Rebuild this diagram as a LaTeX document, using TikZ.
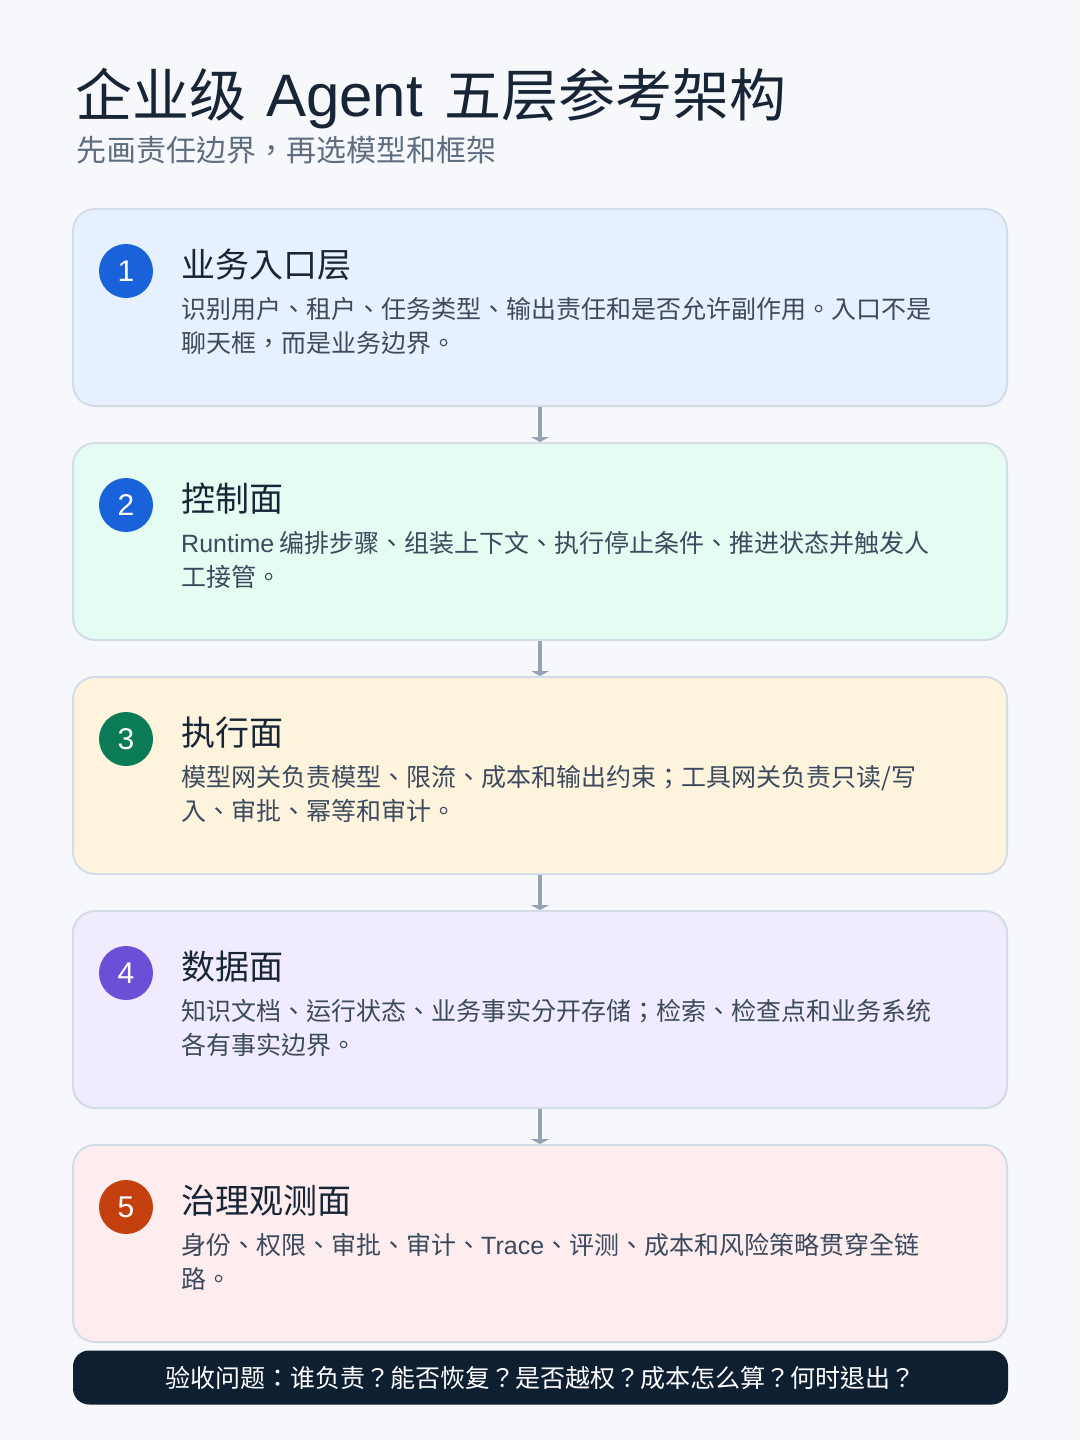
\documentclass[tikz,border=0pt]{standalone}
\usepackage{fontspec}
\setmainfont{Noto Sans CJK TC}
\newfontfamily\latinfont{Liberation Sans}
\usepackage{tikz}
\usetikzlibrary{calc}
\usetikzlibrary{arrows.meta}
\definecolor{pagebg}{HTML}{F6F8FC}
\definecolor{edgegray}{HTML}{D4DDE7}
\definecolor{titleink}{HTML}{172536}
\definecolor{bodyink}{HTML}{3B4A5C}
\definecolor{subink}{HTML}{5E6E80}
\definecolor{arrowgray}{HTML}{94A2B4}
\definecolor{barnavy}{HTML}{0F1F32}
\definecolor{fillone}{HTML}{E7F0FE}
\definecolor{filltwo}{HTML}{E5FCF2}
\definecolor{fillthree}{HTML}{FEF4DE}
\definecolor{fillfour}{HTML}{F1ECFD}
\definecolor{fillfive}{HTML}{FDEDEE}
\definecolor{badgeblue}{HTML}{1A62D9}
\definecolor{badgegreen}{HTML}{0B7A56}
\definecolor{badgepurple}{HTML}{6B4FD6}
\definecolor{badgeorange}{HTML}{C4410F}
\tikzset{
  layer/.style={draw=edgegray, line width=2pt, rounded corners=22pt, minimum width=934pt, minimum height=197pt, anchor=north, inner sep=0pt},
  badge/.style={circle, minimum size=54pt, inner sep=0pt, text=white, font=\latinfont\fontsize{30}{30}\selectfont},
  layertitle/.style={anchor=base west, inner sep=0pt, text=titleink, font=\fontsize{34}{38}\selectfont},
  layerbody/.style={anchor=north west, inner sep=0pt, align=left, text=bodyink, font=\fontsize{25}{34}\selectfont},
  flow/.style={draw=arrowgray, line width=4pt, -{Triangle[width=18pt,length=5pt]}}
}
\newcommand{\layer}[6]{ \node[layer, fill=#3] (L#1) at (540, #2) {};
  \node[badge, fill=#4] (B#1) at (126, #2+63) {#1};
  \node[layertitle] (T#1) at (181, #2+69) {#5};
  \node[layerbody] (D#1) at (181, #2+89) {#6};}
\begin{document}
\begin{tikzpicture}[x=1pt, y=-1pt]
        \useasboundingbox[fill=pagebg] (0,0) rectangle (1080,1440);
        % heading
        \node[anchor=base west, inner sep=0pt, text=titleink, font=\fontsize{57}{60}\selectfont] (H) at (75, 116) {企业级\hspace{20pt}{\latinfont\fontsize{60}{60}\selectfont Agent}\hspace{22pt}五层参考架构};
        \node[anchor=base west, inner sep=0pt, text=subink, font=\fontsize{30}{34}\selectfont] (S) at (76, 161) {先画责任边界，再选模型和框架};
        % layers
        \layer{1}{208}{fillone}{badgeblue}{业务入口层}{识别用户、租户、任务类型、输出责任和是否允许副作用。入口不是\\聊天框，而是业务边界。}
        \layer{2}{442}{filltwo}{badgeblue}{控制面}{{\latinfont Runtime} 编排步骤、组装上下文、执行停止条件、推进状态并触发人\\工接管。}
        \layer{3}{676}{fillthree}{badgegreen}{执行面}{模型网关负责模型、限流、成本和输出约束；工具网关负责只读/写\\入、审批、幂等和审计。}
        \layer{4}{910}{fillfour}{badgepurple}{数据面}{知识文档、运行状态、业务事实分开存储；检索、检查点和业务系统\\各有事实边界。}
        \layer{5}{1144}{fillfive}{badgeorange}{治理观测面}{身份、权限、审批、审计、{\latinfont Trace}、评测、成本和风险策略贯穿全链\\路。}
        % connectors
        \draw[flow] (L1.south) -- (L2.north);
        \draw[flow] (L2.south) -- (L3.north);
        \draw[flow] (L3.south) -- (L4.north);
        \draw[flow] (L4.south) -- (L5.north);
        % acceptance bar
        \node[fill=barnavy, rounded corners=16pt, minimum width=935pt, minimum height=54pt, inner sep=0pt, text=white, font=\fontsize{25}{28}\selectfont] (Q) at (540.5, 1377.5) {验收问题：谁负责？能否恢复？是否越权？成本怎么算？何时退出？};
\end{tikzpicture}
\end{document}
